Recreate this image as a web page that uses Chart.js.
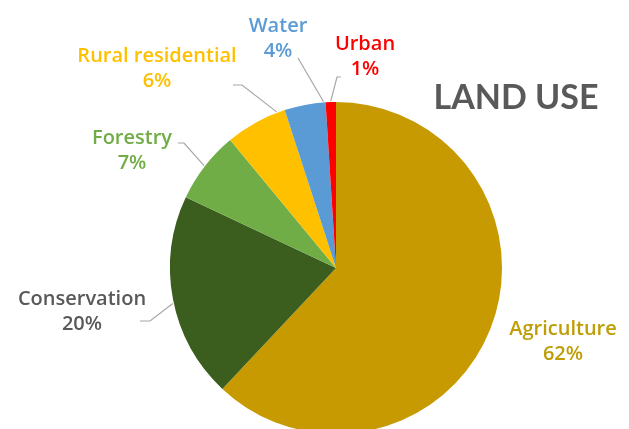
<!DOCTYPE html>
<html>
<head>
<meta charset="utf-8">
<title>Land use</title>
<script src="https://cdn.jsdelivr.net/npm/chart.js@4/dist/chart.umd.min.js"></script>
<style>
  html, body { margin: 0; padding: 0; background: #fff; overflow: hidden; }
  #wrap { position: absolute; left: 0; top: 0; width: 629px; height: 440px; }
</style>
</head>
<body>
<div id="wrap"><canvas id="landChart" width="629" height="440"></canvas></div>
<script>
// land use shares, clockwise from 12 o'clock
const categories = ['Agriculture', 'Conservation', 'Forestry', 'Rural residential', 'Water', 'Urban'];
const shares = [62, 20, 7, 6, 4, 1];
const sliceColors = ['#C69A00', '#3B5E1E', '#70AD47', '#FFC000', '#5B9BD5', '#FF0000'];
const labelColors = ['#BE9D05', '#595959', '#70AD47', '#FFC000', '#5B9BD5', '#FF0000'];

// label placement: text centre, and leader line (points from the text
// towards the slice; `at` = where along the slice the leader touches it)
const labelLayout = [
    { x: 563, y: 329, leader: null },
    { x: 82, y: 299, leader: { pts: [[140, 321], [150, 321]], at: 0.48 } },
    { x: 132, y: 138, leader: { pts: [[178, 143], [184, 143]], at: 0.5 } },
    { x: 157, y: 56, leader: { pts: [[233, 85], [242, 85]], at: 0.87 } },
    { x: 278, y: 26, leader: { pts: [[298, 58]], at: 0.95 } },
    { x: 365, y: 44, leader: { pts: [[341, 77], [337, 77]], at: 0.5 } }
];

const pieLabels = {
    id: 'pieLabels',
    afterDraw(chart) {
        const ctx = chart.ctx;
        const arcs = chart.getDatasetMeta(0).data;
        ctx.save();

        // leader lines
        ctx.strokeStyle = '#A6A6A6';
        ctx.lineWidth = 1.2;
        arcs.forEach((arc, i) => {
            const lead = labelLayout[i].leader;
            if (!lead) return;
            const p = arc.getProps(['x', 'y', 'startAngle', 'endAngle', 'outerRadius'], true);
            const a = p.startAngle + (p.endAngle - p.startAngle) * lead.at;
            const r = p.outerRadius + 1;
            ctx.beginPath();
            ctx.moveTo(lead.pts[0][0], lead.pts[0][1]);
            lead.pts.slice(1).forEach(pt => ctx.lineTo(pt[0], pt[1]));
            ctx.lineTo(p.x + Math.cos(a) * r, p.y + Math.sin(a) * r);
            ctx.stroke();
        });

        // category name + percentage
        ctx.font = '600 20px "Open Sans"';
        ctx.textAlign = 'center';
        ctx.textBaseline = 'middle';
        categories.forEach((name, i) => {
            const l = labelLayout[i];
            ctx.fillStyle = labelColors[i];
            ctx.fillText(name, l.x, l.y);
            ctx.fillText(shares[i] + '%', l.x, l.y + 25);
        });

        // heading
        ctx.fillStyle = '#595959';
        ctx.font = 'bold 34px Lato';
        ctx.fillText('LAND USE', 516, 98);
        ctx.restore();
    }
};

new Chart(document.getElementById('landChart'), {
    type: 'pie',
    data: {
        labels: categories,
        datasets: [{
            data: shares,
            backgroundColor: sliceColors,
            borderWidth: 0
        }]
    },
    options: {
        responsive: false,
        animation: false,
        layout: { padding: { top: 102, left: 170, right: 127, bottom: 6 } },
        plugins: {
            legend: { display: false },
            tooltip: { enabled: false }
        }
    },
    plugins: [pieLabels]
});
</script>
</body>
</html>
